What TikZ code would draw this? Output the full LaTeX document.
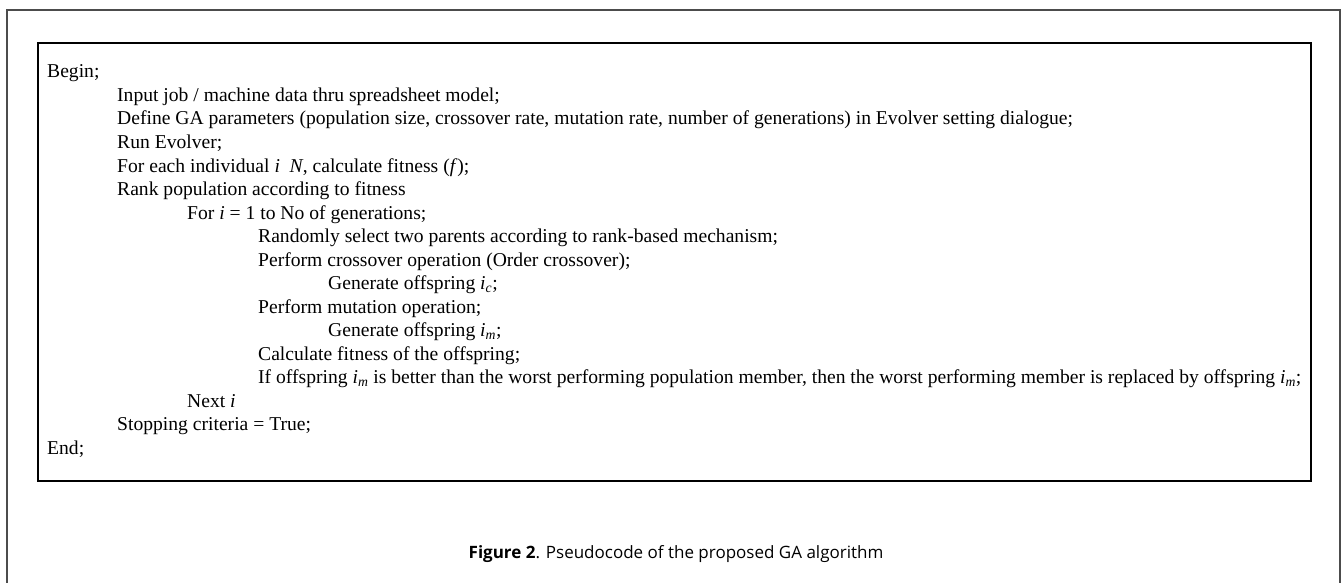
\documentclass[tikz,border=0pt]{standalone}
\usepackage{fontspec}
\setmainfont{Liberation Serif}
\newfontfamily\capfont{Open Sans}
\tikzstyle{code}=[anchor=base west, inner sep=0pt, font=\fontsize{19.6}{22}\selectfont]
\tikzstyle{frame}=[draw=black!70, line width=1.8pt]
\tikzstyle{box}=[draw=black, line width=1.1pt]
\newcommand{\offsp}[1]{\textit{i}\textsubscript{\textit{#1}}}

\begin{document}
\begin{tikzpicture}[x=1pt,y=-1pt]
    \useasboundingbox (0,0) rectangle (1342,583);
    \draw[frame] (7,584) -- (7,10) -- (1340,10) -- (1340,584);
    \draw[box] (38,43) rectangle (1311,481);
    \node[code] (begin) at (47,78) {Begin;};
    \node[code] (input) at (117,101.5) {Input job / machine data thru spreadsheet model;};
    \node[code] (define) at (117,125) {Define GA parameters (population size, crossover rate, mutation rate, number of generations) in Evolver setting dialogue;};
    \node[code] (run) at (117,148.5) {Run Evolver;};
    \node[code] (each) at (117,172) {For each individual \textit{i}\ \ \textit{N}, calculate fitness (\textit{f});};
    \node[code] (rank) at (117,195.5) {Rank population according to fitness};
    \node[code] (for) at (187,219) {For \textit{i} = 1 to No of generations;};
    \node[code] (select) at (258,242.5) {Randomly select two parents according to rank-based mechanism;};
    \node[code] (cross) at (258,266) {Perform crossover operation (Order crossover);};
    \node[code] (genc) at (328,289.5) {Generate offspring \offsp{c};};
    \node[code] (mut) at (258,313) {Perform mutation operation;};
    \node[code] (genm) at (328,336.5) {Generate offspring \offsp{m};};
    \node[code] (calc) at (258,360) {Calculate fitness of the offspring;};
    \node[code] (repl) at (258,383.5) {If offspring \offsp{m} is better than the worst performing population member, then the worst performing member is replaced by offspring \offsp{m};};
    \node[code] (next) at (187,407) {Next \textit{i}};
    \node[code] (stop) at (117,430.5) {Stopping criteria = True;};
    \node[code] (end) at (47,454) {End;};
    \node[font=\capfont\fontsize{17}{20}\selectfont, anchor=base] (cap) at (676,558) {\textbf{Figure 2}. Pseudocode of the proposed GA algorithm};
\end{tikzpicture}
\end{document}
